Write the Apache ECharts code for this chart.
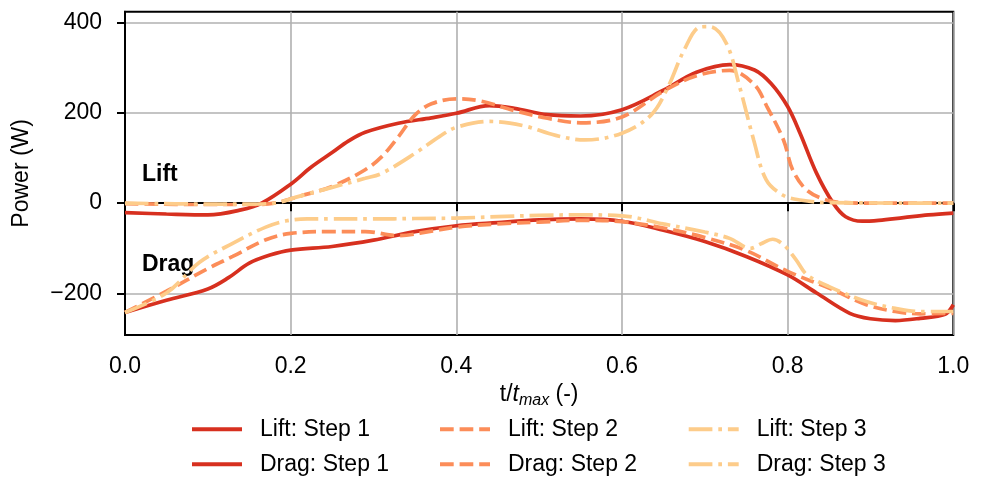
<!DOCTYPE html>
<html>
<head>
<meta charset="utf-8">
<script src="https://cdn.jsdelivr.net/npm/echarts@6/dist/echarts.min.js"></script>
<style>
html,body{margin:0;padding:0;background:#fff;}
#chart{width:984px;height:478px;}
</style>
</head>
<body>
<div id="chart"></div>
<script>
// ---- data (t/tmax, Power W) ----
const liftStep1 = [[0,-21],[0.05,-24],[0.1,-26],[0.14,-15],[0.165,0],[0.2,42],[0.225,80],[0.25,112],[0.27,138],[0.29,157],[0.33,177],[0.37,189],[0.4,199],[0.44,216],[0.47,210],[0.51,196],[0.55,193],[0.6,207],[0.65,250],[0.69,290],[0.73,307],[0.76,295],[0.78,265],[0.8,214],[0.815,155],[0.835,66],[0.855,0],[0.87,-30],[0.89,-40],[0.91,-38],[0.94,-32],[0.97,-26],[1,-22]];
const liftStep2 = [[0,-1],[0.1,-3],[0.15,-3],[0.18,0],[0.21,15],[0.25,37],[0.29,74],[0.31,103],[0.33,147],[0.35,195],[0.37,220],[0.4,231],[0.43,226],[0.47,205],[0.51,188],[0.55,178],[0.6,191],[0.65,248],[0.69,282],[0.73,294],[0.76,262],[0.775,214],[0.795,140],[0.806,74],[0.823,29],[0.847,7],[0.87,1],[0.9,0],[1,0]];
const liftStep3 = [[0,0],[0.1,-2],[0.15,-2],[0.18,0],[0.21,15],[0.25,35],[0.29,55],[0.31,66],[0.35,110],[0.38,148],[0.4,168],[0.44,181],[0.48,172],[0.52,150],[0.555,140],[0.6,155],[0.635,195],[0.655,255],[0.675,339],[0.694,390],[0.706,391],[0.726,354],[0.742,258],[0.759,140],[0.774,52],[0.794,18],[0.815,7],[0.85,1],[1,0]];
const dragStep1 = [[0,-242],[0.05,-215],[0.1,-190],[0.125,-165],[0.15,-133],[0.175,-115],[0.2,-104],[0.25,-96],[0.3,-82],[0.35,-63],[0.4,-50],[0.45,-43],[0.5,-37],[0.55,-35],[0.6,-40],[0.65,-60],[0.7,-85],[0.75,-118],[0.8,-159],[0.835,-199],[0.875,-244],[0.9,-256],[0.93,-260],[0.96,-255],[0.99,-246],[1,-225]];
const dragStep2 = [[0,-242],[0.05,-195],[0.1,-145],[0.13,-118],[0.17,-81],[0.2,-67],[0.25,-63],[0.29,-63],[0.33,-72],[0.37,-62],[0.4,-53],[0.45,-46],[0.5,-42],[0.55,-38],[0.6,-41],[0.65,-55],[0.7,-76],[0.75,-105],[0.8,-151],[0.855,-192],[0.895,-225],[0.93,-240],[0.96,-245],[1,-244]];
const dragStep3 = [[0,-242],[0.05,-199],[0.09,-131],[0.13,-89],[0.17,-53],[0.195,-39],[0.22,-35],[0.25,-35],[0.3,-35],[0.35,-34],[0.4,-33],[0.45,-30],[0.5,-27],[0.55,-26],[0.6,-28],[0.65,-46],[0.7,-64],[0.73,-78],[0.755,-100],[0.768,-90],[0.782,-80],[0.795,-92],[0.81,-125],[0.823,-158],[0.85,-185],[0.895,-218],[0.93,-233],[0.96,-240],[1,-240]];
const yTicks = [-200, 0, 200, 400];
const seriesNames = ['Lift: Step 1','Drag: Step 1','Lift: Step 2','Drag: Step 2','Lift: Step 3','Drag: Step 3'];

const FONT = '"Liberation Sans", Arial, Helvetica, sans-serif';
const FS = 23;
const C1 = '#d7301f', C2 = '#fc8d59', C3 = '#fdcc8a';
const LW = 3.7;
const DASH = [13.7, 5.9];
const DASHDOT = [23.7, 5.9, 3.7, 5.9];

function mk(name, data, color, type) {
  return {
    name: name, type: 'line', data: data, smooth: 0.35, symbol: 'none', showSymbol: false,
    lineStyle: { color: color, width: LW, type: type, cap: 'butt' },
    itemStyle: { color: color },
    emphasis: { disabled: true }, animation: false
  };
}

const chart = echarts.init(document.getElementById('chart'));
function legendAt(left, top, name) {
  return {
    orient: 'horizontal', left: left, top: top, padding: 0, itemWidth: 50, itemHeight: 14,
    data: [name], selectedMode: false,
    lineStyle: { width: 4 },
    itemStyle: { opacity: 0, borderWidth: 0 },
    textStyle: { fontFamily: FONT, fontSize: FS, color: '#000', lineHeight: 24, padding: [0, 0, 0, 13] }
  };
}
chart.setOption({
  animation: false,
  backgroundColor: '#fff',
  grid: { left: 125, right: 30.7, top: 11.7, bottom: 143, show: true, borderColor: '#000', borderWidth: 2, containLabel: false },
  xAxis: {
    type: 'value', min: 0, max: 1, interval: 0.2,
    name: '{n|t/}{i|t}{s|max}{n| (-)}', nameLocation: 'middle', nameGap: 46,
    nameTextStyle: { fontFamily: FONT, color: '#000', rich: {
      n: { fontSize: FS, fontFamily: FONT, color: '#000' },
      i: { fontSize: FS, fontFamily: FONT, fontStyle: 'italic', color: '#000' },
      s: { fontSize: 16, fontFamily: FONT, fontStyle: 'italic', color: '#000', padding: [12, 0, 0, 0] }
    }},
    axisLine: { lineStyle: { color: '#000', width: 2 } },
    axisTick: { show: true, inside: false, length: 8, lineStyle: { color: '#000', width: 2 } },
    axisLabel: { fontFamily: FONT, fontSize: FS, color: '#000', margin: 20, formatter: v => v.toFixed(1) },
    splitLine: { show: true, lineStyle: { color: '#b0b0b0', width: 1.6 } }
  },
  yAxis: {
    type: 'value', min: -292, max: 424,
    name: 'Power (W)', nameLocation: 'middle', nameGap: 92,
    nameTextStyle: { fontFamily: FONT, fontSize: FS, color: '#000' },
    axisLine: { show: true, lineStyle: { color: '#000', width: 2 } },
    axisTick: { show: true, inside: false, length: 8, customValues: yTicks, lineStyle: { color: '#000', width: 2 } },
    axisLabel: { fontFamily: FONT, fontSize: FS, color: '#000', margin: 23, customValues: yTicks,
      formatter: v => String(v).replace('-', '\u2212') },
    splitLine: { show: true, lineStyle: { color: '#b0b0b0', width: 1.6 } }
  },
  legend: [
    legendAt(190, 417.3, seriesNames[0]),
    legendAt(190, 452.3, seriesNames[1]),
    legendAt(438, 417.3, seriesNames[2]),
    legendAt(438, 452.3, seriesNames[3]),
    legendAt(686.7, 417.3, seriesNames[4]),
    legendAt(686.7, 452.3, seriesNames[5])
  ],
  graphic: [
    { type: 'text', left: 142, top: 163, style: { text: 'Lift', fontFamily: FONT, fontSize: 23, fontWeight: 'bold', fill: '#000' } },
    { type: 'text', left: 142, top: 253, style: { text: 'Drag', fontFamily: FONT, fontSize: 23, fontWeight: 'bold', fill: '#000' } }
  ],
  series: [
    mk(seriesNames[0], liftStep1, C1, 'solid'),
    mk(seriesNames[1], dragStep1, C1, 'solid'),
    mk(seriesNames[2], liftStep2, C2, DASH),
    mk(seriesNames[3], dragStep2, C2, DASH),
    mk(seriesNames[4], liftStep3, C3, DASHDOT),
    mk(seriesNames[5], dragStep3, C3, DASHDOT)
  ]
});
</script>
</body>
</html>
